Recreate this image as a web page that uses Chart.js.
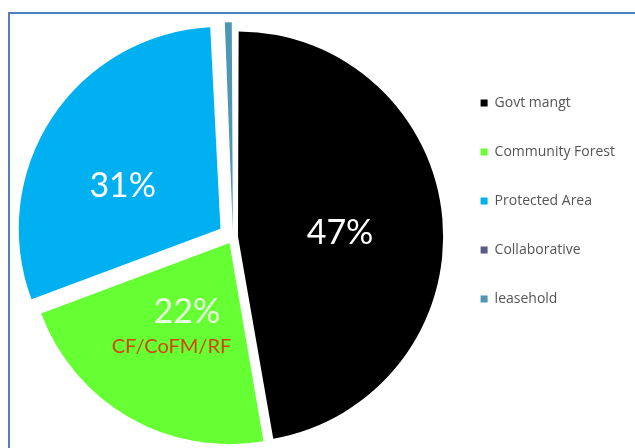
<!DOCTYPE html>
<html>
<head>
<meta charset="utf-8">
<script src="https://cdn.jsdelivr.net/npm/chart.js@4.4.1/dist/chart.umd.min.js"></script>
<style>
  html, body { margin: 0; padding: 0; background: #ffffff; }
  #wrap { position: relative; width: 635px; height: 448px; overflow: hidden; }
  #frame { position: absolute; left: 8px; top: 12px; width: 700px; height: 500px;
           border-left: 2px solid #4f81bd; border-top: 2px solid #4f81bd; box-sizing: border-box; }
  #c { position: absolute; left: 0; top: 0; }
</style>
</head>
<body>
<div id="wrap">
  <div id="frame"></div>
  <canvas id="c" width="635" height="448"></canvas>
</div>
<script>
// ---- data ----
const categories = ['Govt mangt', 'Community Forest', 'Protected Area', 'Collaborative', 'leasehold'];
const shares = [47.3, 22.0, 29.9, 0.1, 0.7];
const sliceLabels = ['47%', '22%', '31%', '', ''];
const subLabels = ['', 'CF/CoFM/RF', '', '', ''];
const sliceColors = ['#000000', '#66ff33', '#00b0f0', '#5c5c88', '#4f96b4'];

// ---- layout helpers (legend width measured so the pie centre lands where wanted) ----
const legendFontSize = 14;
const legendPad = 35;
const legendBox = 7;
const pieCenterX = 233;
const mctx = document.createElement('canvas').getContext('2d');
mctx.font = legendFontSize + 'px "Open Sans"';
const maxText = Math.max(...categories.map(t => mctx.measureText(t).width));
const legendWidth = legendPad + (legendBox + legendFontSize / 2 + maxText) + 10;
const rightPad = 10;
const chartRight = 635 - rightPad - legendWidth;
const leftPad = 2 * pieCenterX - chartRight;

// label drawing plugin (uses arc element geometry from the library)
const sliceLabelPlugin = {
  id: 'sliceLabel',
  afterDatasetsDraw(chart, args, opts) {
    const ctx = chart.ctx;
    const meta = chart.getDatasetMeta(0);
    meta.data.forEach((arc, i) => {
      const p = arc.getCenterPoint();
      const n = opts.nudge[i] || [0, 0];
      const x = p.x + n[0], y = p.y + n[1];
      ctx.save();
      ctx.textAlign = 'center';
      ctx.textBaseline = 'middle';
      if (sliceLabels[i]) {
        ctx.font = opts.font;
        ctx.fillStyle = opts.colors[i];
        ctx.fillText(sliceLabels[i], x, y);
      }
      if (subLabels[i]) {
        const s = opts.subNudge[i] || [0, 0];
        ctx.font = opts.subFont;
        ctx.fillStyle = opts.subColor;
        ctx.fillText(subLabels[i], x + s[0], y + s[1]);
      }
      ctx.restore();
    });
  }
};

new Chart(document.getElementById('c'), {
  type: 'pie',
  data: {
    labels: categories,
    datasets: [{
      data: shares,
      backgroundColor: sliceColors,
      borderWidth: 0,
      offset: [20, 28, 60, 28, 28]
    }]
  },
  plugins: [sliceLabelPlugin],
  options: {
    responsive: false,
    animation: false,
    radius: 201,
    clip: false,
    layout: { padding: { left: leftPad, right: rightPad, top: 26, bottom: 0 } },
    plugins: {
      tooltip: { enabled: false },
      legend: {
        position: 'right',
        align: 'start',
        title: { display: true, text: '', padding: { top: 20.6, bottom: 0 }, font: { size: 12 } },
        labels: {
          boxWidth: legendBox,
          boxHeight: legendBox,
          padding: legendPad,
          color: '#555555',
          font: { family: 'Open Sans', size: legendFontSize }
        }
      },
      sliceLabel: {
        font: '34px Lato',
        colors: ['#ffffff', '#eaffe0', '#ffffff', '#ffffff', '#ffffff'],
        nudge: [[-3.1, 5.4], [11, -24.5], [-1.2, 20.6], [0, 0], [0, 0]],
        subFont: '20px Lato',
        subColor: '#d2460a',
        subNudge: [[0, 0], [-15.5, 34.4], [0, 0], [0, 0], [0, 0]]
      }
    }
  }
});
</script>
</body>
</html>
